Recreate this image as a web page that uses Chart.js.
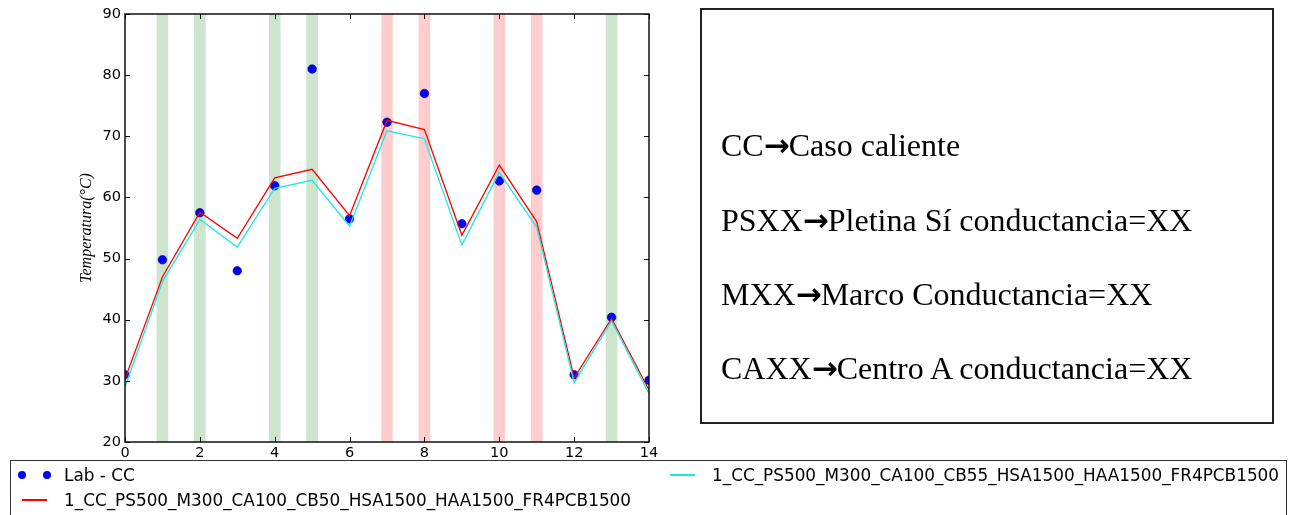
<!DOCTYPE html>
<html>
<head>
<meta charset="utf-8">
<script src="https://cdn.jsdelivr.net/npm/chart.js@4.4.1/dist/chart.umd.min.js"></script>
<style>
  html, body { margin: 0; padding: 0; background: #fff; }
  #wrap { position: relative; width: 1295px; height: 515px; overflow: hidden; }
  #chartBox { position: absolute; left: 0; top: 0; width: 1295px; height: 515px; }
  #notes { position: absolute; left: 700px; top: 8px; width: 574px; height: 416px;
           box-sizing: border-box; border: 2px solid #222; }
  .note { position: absolute; left: 19px; white-space: nowrap; color: #000;
          font-family: "Liberation Serif", "Times New Roman", serif; font-size: 32px; line-height: 32px; }
  .arrow { font-family: "DejaVu Sans", sans-serif; font-weight: bold; font-size: 31px; line-height: 0;
           letter-spacing: -1px; }
  #legend { position: absolute; left: 10px; top: 460px; width: 1277px; height: 70px;
            box-sizing: border-box; border: 1px solid #333;
            font-family: "DejaVu Sans", sans-serif; font-size: 16.85px; color: #000; }
  .item { position: absolute; white-space: nowrap; line-height: 17px; }
  .dot { position: absolute; width: 8px; height: 8px; border-radius: 50%; }
  .seg { position: absolute; height: 2px; width: 25px; }
</style>
</head>
<body>
<div id="wrap">
  <div id="chartBox"><canvas id="chart"></canvas></div>
  <div id="notes">
    <div class="note" style="top:119px">CC<span class="arrow">→</span>Caso caliente</div>
    <div class="note" style="top:194px">PSXX<span class="arrow">→</span>Pletina Sí conductancia=XX</div>
    <div class="note" style="top:268px">MXX<span class="arrow">→</span>Marco Conductancia=XX</div>
    <div class="note" style="top:342px">CAXX<span class="arrow">→</span>Centro A conductancia=XX</div>
  </div>
  <div id="legend"></div>
</div>
<script>
// Measurement positions along the x axis
const positions = [0, 1, 2, 3, 4, 5, 6, 7, 8, 9, 10, 11, 12, 13, 14];

// Laboratory measurements, hot case
const labName = 'Lab - CC';
const labValues = [31.0, 49.8, 57.5, 48.0, 61.9, 81.0, 56.5, 72.3, 77.0, 55.7, 62.7, 61.2, 31.0, 40.4, 30.1];

// Simulation, CB = 50
const simAName = '1_CC_PS500_M300_CA100_CB50_HSA1500_HAA1500_FR4PCB1500';
const simAValues = [30.3, 47.0, 57.6, 53.3, 63.2, 64.6, 57.0, 72.6, 71.1, 53.8, 65.3, 56.0, 30.5, 40.2, 28.5];

// Simulation, CB = 55
const simBName = '1_CC_PS500_M300_CA100_CB55_HSA1500_HAA1500_FR4PCB1500';
const simBValues = [29.0, 46.2, 56.4, 51.9, 61.5, 62.8, 55.3, 70.9, 69.6, 52.2, 64.1, 55.1, 29.7, 39.8, 27.9];

// Highlighted positions (green / red vertical spans)
const greenSpans = [1, 2, 4, 5, 13];
const redSpans = [7, 8, 10, 11];

// Axis ranges and ticks
const xMin = 0, xMax = 14, xStep = 2;
const yMin = 20, yMax = 90, yStep = 10;
const yTitle = 'Temperatura(°C)';

const toPoints = (vals) => positions.map((x, i) => ({ x: x, y: vals[i] }));
const toSpans = (xs) => xs.map(x => ({ x: x, y: [yMin, yMax] }));

// Frame and inward tick marks on all four sides
const framePlugin = {
  id: 'frame',
  afterDatasetsDraw(chart) {
    const { ctx, chartArea: a, scales: { x, y } } = chart;
    ctx.save();
    ctx.strokeStyle = '#111';
    ctx.lineWidth = 1;
    const L = 5;
    ctx.beginPath();
    x.ticks.forEach(t => {
      const px = Math.round(x.getPixelForValue(t.value)) + 0.5;
      ctx.moveTo(px, a.bottom); ctx.lineTo(px, a.bottom - L);
      ctx.moveTo(px, a.top); ctx.lineTo(px, a.top + L);
    });
    y.ticks.forEach(t => {
      const py = Math.round(y.getPixelForValue(t.value)) + 0.5;
      ctx.moveTo(a.left, py); ctx.lineTo(a.left + L, py);
      ctx.moveTo(a.right, py); ctx.lineTo(a.right - L, py);
    });
    ctx.stroke();
    ctx.lineWidth = 1.5;
    ctx.strokeRect(a.left, a.top, a.right - a.left, a.bottom - a.top);
    ctx.restore();
  }
};

const chart = new Chart(document.getElementById('chart'), {
  type: 'line',
  data: {
    datasets: [
      {
        label: labName, data: toPoints(labValues), showLine: false,
        pointRadius: 4.3, pointBackgroundColor: '#0000ff', pointBorderColor: '#00006e',
        pointBorderWidth: 0.6, borderColor: '#0000ff', backgroundColor: '#0000ff', order: 3
      },
      {
        label: simAName, data: toPoints(simAValues), borderColor: '#ff0000',
        borderWidth: 1.3, pointRadius: 0, tension: 0, fill: false, order: 2
      },
      {
        label: simBName, data: toPoints(simBValues), borderColor: '#1ee8e8',
        borderWidth: 1.3, pointRadius: 0, tension: 0, fill: false, order: 1
      },
      {
        type: 'bar', label: 'green', span: true, data: toSpans(greenSpans),
        backgroundColor: '#cde5cd', borderWidth: 0, grouped: false,
        barPercentage: 0.31, categoryPercentage: 1, order: 10
      },
      {
        type: 'bar', label: 'red', span: true, data: toSpans(redSpans),
        backgroundColor: '#ffcdcd', borderWidth: 0, grouped: false,
        barPercentage: 0.31, categoryPercentage: 1, order: 10
      }
    ]
  },
  options: {
    responsive: true,
    maintainAspectRatio: false,
    animation: false,
    devicePixelRatio: 1,
    layout: { padding: { top: 14, right: 646, left: 0, bottom: 0 } },
    plugins: { legend: { display: false }, tooltip: { enabled: false } },
    scales: {
      x: {
        type: 'linear', min: xMin, max: xMax, offset: false,
        grid: { display: false, drawTicks: false, offset: false },
        border: { display: false },
        ticks: { stepSize: xStep, padding: 3, color: '#000',
                 font: { family: 'DejaVu Sans', size: 14.5 }, maxRotation: 0 },
        afterFit: (s) => { s.height = 73; }
      },
      y: {
        type: 'linear', min: yMin, max: yMax,
        grid: { display: false, drawTicks: false },
        border: { display: false },
        ticks: { stepSize: yStep, padding: 4, color: '#000',
                 font: { family: 'DejaVu Sans', size: 14.5 } },
        title: { display: true, text: yTitle, color: '#000',
                 font: { family: 'Liberation Serif', size: 16, style: 'italic' },
                 padding: { top: 77, bottom: 0 } },
        afterFit: (s) => { s.width = 125; }
      }
    }
  },
  plugins: [framePlugin]
});

// Legend built from the chart's own datasets, laid out in two columns
const legendSlots = [
  { left: 11, top: 6 },    // column 1, row 1
  { left: 11, top: 31 },   // column 1, row 2
  { left: 659, top: 6 }    // column 2, row 1
];
const legendEl = document.getElementById('legend');
chart.data.datasets.filter(d => !d.span).forEach((d, i) => {
  const slot = legendSlots[i];
  if (d.showLine === false) {
    [0, 25].forEach(dx => {
      const dot = document.createElement('span');
      dot.className = 'dot';
      dot.style.left = (slot.left + dx - 4) + 'px';
      dot.style.top = (slot.top + 8 - 4) + 'px';
      dot.style.background = d.backgroundColor;
      legendEl.appendChild(dot);
    });
  } else {
    const seg = document.createElement('span');
    seg.className = 'seg';
    seg.style.left = slot.left + 'px';
    seg.style.top = (slot.top + 7) + 'px';
    seg.style.background = d.borderColor;
    legendEl.appendChild(seg);
  }
  const txt = document.createElement('span');
  txt.className = 'item';
  txt.style.left = (slot.left + 42) + 'px';
  txt.style.top = slot.top + 'px';
  txt.textContent = d.label;
  legendEl.appendChild(txt);
});
</script>
</body>
</html>
